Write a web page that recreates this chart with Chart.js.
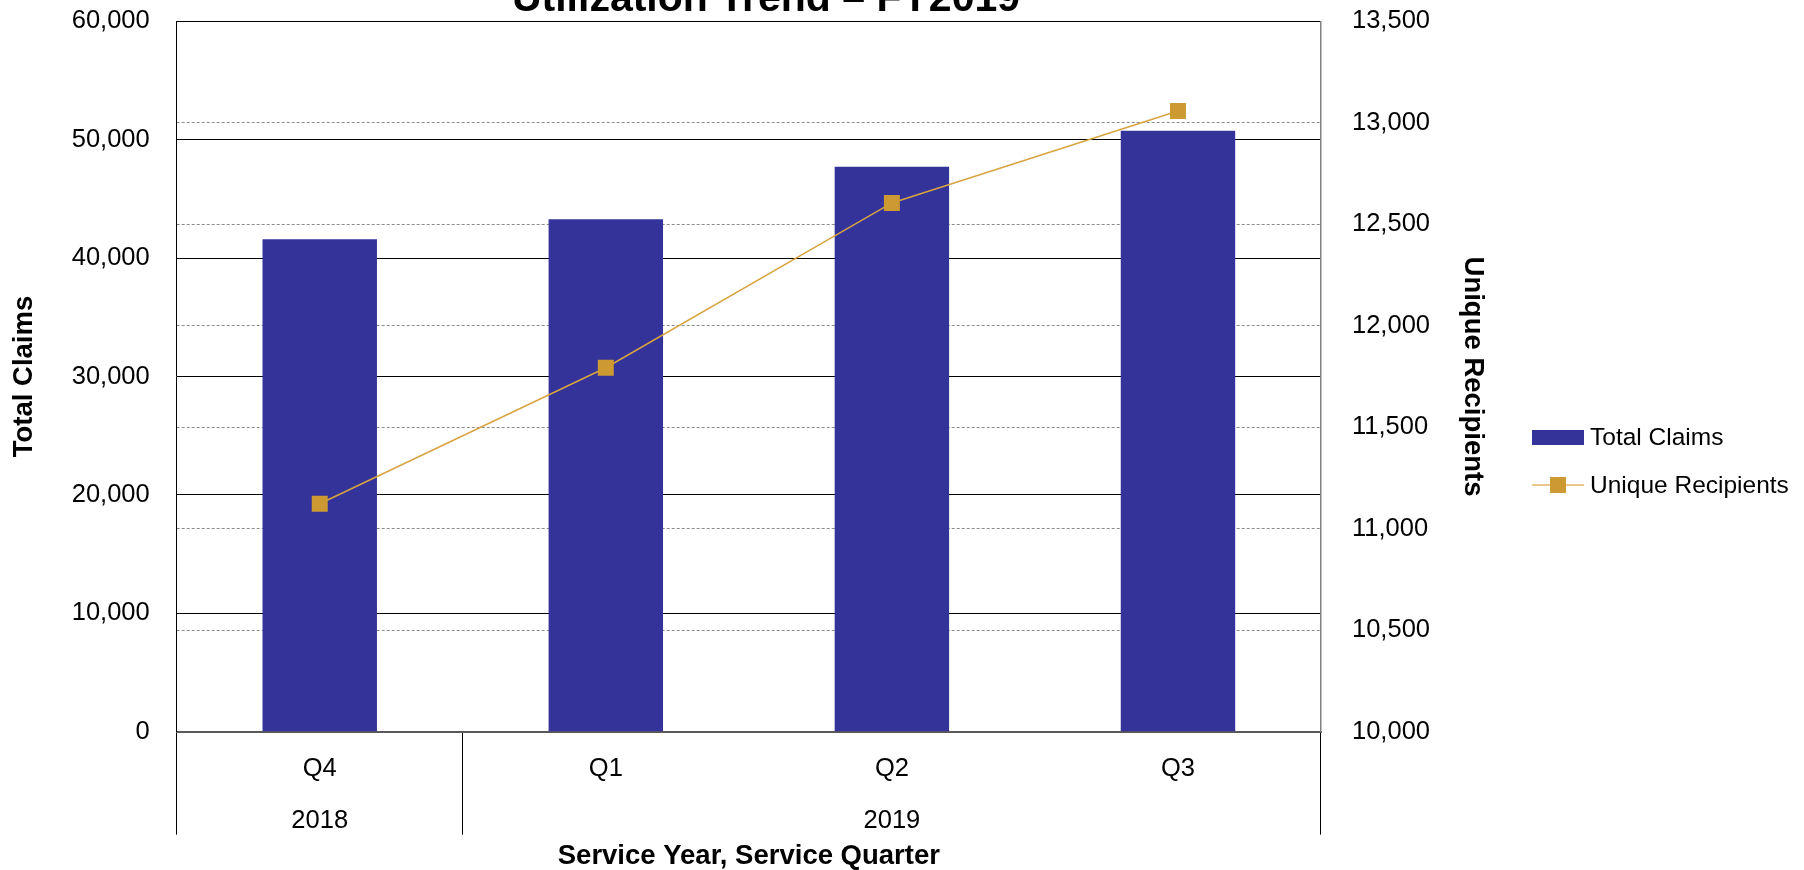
<!DOCTYPE html>
<html>
<head>
<meta charset="utf-8">
<title>Utilization Trend – FY2019</title>
<script src="https://cdn.jsdelivr.net/npm/chart.js@4.4.1/dist/chart.umd.min.js"></script>
<style>
    html, body { margin: 0; padding: 0; background: #fff; overflow: hidden; }
    #wrap { position: relative; width: 1804px; height: 870px; }
    #legend { position: absolute; left: 1532px; top: 413px; font: 24.5px "Liberation Sans", Arial, sans-serif; color: #000; }
    #legend .item { display: flex; align-items: center; height: 48px; white-space: nowrap; }
    #legend .swatch { position: relative; width: 52px; height: 16px; margin-right: 6px; }
    #legend .bar { position: absolute; left: 0; top: 1px; width: 52px; height: 15px; }
    #legend .line { position: absolute; left: 0; top: 7px; width: 52px; height: 2px; }
    #legend .marker { position: absolute; left: 18px; top: 0; width: 16px; height: 16px; }
</style>
</head>
<body>
<div id="wrap">
    <canvas id="trendChart"></canvas>
    <div id="legend"></div>
</div>
<script>
const titleText = 'Utilization Trend – FY2019';
const quarters = ['Q4', 'Q1', 'Q2', 'Q3'];
const years = ['2018', '2019', '2019', '2019'];
const totalClaims = [41590, 43280, 47720, 50760];
const uniqueRecipients = [11123, 11793, 12605, 13058];
const claimsTicks = [0, 10000, 20000, 30000, 40000, 50000, 60000];
const recipientTicks = [10000, 10500, 11000, 11500, 12000, 12500, 13000, 13500];

const FONT = '"Liberation Sans", Arial, sans-serif';
const BAR_COLOR = '#333399';
const LINE_COLOR = '#D8A442';
const MARKER_COLOR = '#CC9933';
const NONE = 'rgba(0,0,0,0)';

// year only printed once, under the middle quarter of its group
function yearLabelAt(i) {
    let start = i, end = i;
    while (start > 0 && years[start - 1] === years[i]) start--;
    while (end < years.length - 1 && years[end + 1] === years[i]) end++;
    return i === Math.floor((start + end) / 2) ? years[i] : '';
}
const labels = quarters.map((q, i) => [q, yearLabelAt(i)]);

const fmt = v => Number(v).toLocaleString('en-US');

const titlePlugin = {
    id: 'cutTitle',
    afterDraw(chart) {
        const ctx = chart.ctx;
        ctx.save();
        ctx.font = 'bold 41px ' + FONT;
        ctx.fillStyle = '#000';
        ctx.textAlign = 'center';
        ctx.textBaseline = 'alphabetic';
        ctx.fillText(titleText, 766, 11);
        ctx.restore();
    }
};

Chart.defaults.font.family = FONT;
Chart.defaults.color = '#000';

const ctx = document.getElementById('trendChart').getContext('2d');
const trendChart = new Chart(ctx, {
    data: {
        labels: labels,
        datasets: [{
            type: 'line',
            label: 'Unique Recipients',
            data: uniqueRecipients,
            yAxisID: 'y1',
            borderColor: LINE_COLOR,
            borderWidth: 1.5,
            pointStyle: 'rect',
            pointRadius: 11.3,
            pointHoverRadius: 11.3,
            pointBackgroundColor: MARKER_COLOR,
            pointBorderWidth: 0,
            tension: 0,
            order: 0
        }, {
            type: 'bar',
            label: 'Total Claims',
            data: totalClaims,
            yAxisID: 'y',
            backgroundColor: BAR_COLOR,
            barPercentage: 0.4,
            categoryPercentage: 1.0,
            order: 1
        }]
    },
    options: {
        responsive: true,
        maintainAspectRatio: false,
        animation: false,
        layout: { padding: { top: 21.3, right: 288, bottom: 0, left: 0 } },
        plugins: {
            legend: { display: false },
            tooltip: { enabled: false },
            title: { display: false }
        },
        scales: {
            x: {
                type: 'category',
                offset: true,
                grid: {
                    offset: true,
                    drawOnChartArea: false,
                    drawTicks: true,
                    tickLength: 103,
                    lineWidth: 1,
                    // separators only at the outer edges and where the year changes
                    color: c => {
                        const i = c.index;
                        if (i === undefined || i === 0 || years[i] !== years[i - 1]) return '#000';
                        return NONE;
                    }
                },
                border: { display: true, color: '#595959', width: 2 },
                ticks: {
                    font: { size: 25.5, lineHeight: 2.04 },
                    padding: -92,
                    maxRotation: 0,
                    autoSkip: false
                },
                title: {
                    display: true,
                    text: 'Service Year, Service Quarter',
                    font: { size: 27.5, weight: 'bold', lineHeight: 1 },
                    padding: { top: 0, bottom: 0 }
                },
                afterFit: s => { s.height = 138.3; }
            },
            y: {
                position: 'left',
                min: claimsTicks[0],
                max: claimsTicks[claimsTicks.length - 1],
                afterBuildTicks: s => { s.ticks = claimsTicks.map(v => ({ value: v })); },
                // invisible tick marks give the label gap without padding the chart top
                grid: { color: '#000', lineWidth: 1, drawTicks: true, tickLength: 27, tickColor: NONE },
                border: { display: true, color: '#000', width: 1 },
                ticks: {
                    font: { size: 25.5 },
                    padding: 0,
                    callback: v => fmt(v)
                },
                title: {
                    display: true,
                    text: 'Total Claims',
                    font: { size: 27.5, weight: 'bold', lineHeight: 1 },
                    padding: { top: 11, bottom: 0 }
                },
                afterFit: s => { s.width = 176.7; }
            },
            y1: {
                position: 'right',
                min: recipientTicks[0],
                max: recipientTicks[recipientTicks.length - 1],
                afterBuildTicks: s => { s.ticks = recipientTicks.map(v => ({ value: v })); },
                grid: {
                    // top and bottom edges already carry the solid claims lines
                    color: c => (c.index === 0 || c.index === recipientTicks.length - 1) ? NONE : '#8c8c8c',
                    lineWidth: 1,
                    drawTicks: true,
                    tickLength: 31,
                    tickColor: NONE,
                    drawOnChartArea: true
                },
                border: { display: true, color: '#808080', width: 1.5, dash: [3, 2] },
                ticks: {
                    font: { size: 25.5 },
                    padding: 0,
                    callback: v => fmt(v)
                },
                title: {
                    display: true,
                    text: 'Unique Recipients',
                    font: { size: 27.5, weight: 'bold', lineHeight: 1 },
                    padding: { top: 30, bottom: 0 }
                },
                afterFit: s => { s.width = 195; }
            }
        }
    },
    plugins: [titlePlugin]
});

// legend built from the datasets, bar first like the chart's series order
const legend = document.getElementById('legend');
[1, 0].forEach(idx => {
    const ds = trendChart.data.datasets[idx];
    const item = document.createElement('div');
    item.className = 'item';
    const swatch = document.createElement('span');
    swatch.className = 'swatch';
    if (ds.type === 'bar') {
        swatch.innerHTML = `<span class="bar" style="background:${ds.backgroundColor}"></span>`;
    } else {
        swatch.innerHTML = `<span class="line" style="background:${ds.borderColor};opacity:0.6"></span>` +
            `<span class="marker" style="background:${ds.pointBackgroundColor}"></span>`;
    }
    const text = document.createElement('span');
    text.textContent = ds.label;
    item.appendChild(swatch);
    item.appendChild(text);
    legend.appendChild(item);
});
</script>
</body>
</html>
